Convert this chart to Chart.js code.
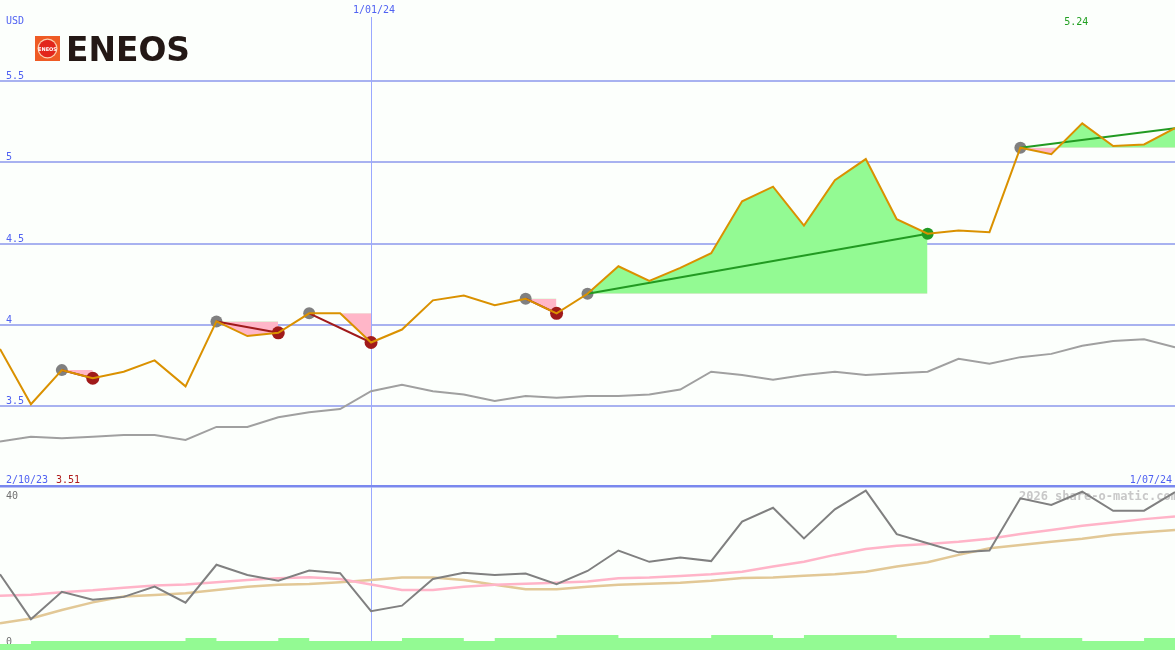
<!DOCTYPE html>
<html>
<head>
<meta charset="utf-8">
<script src="https://cdn.jsdelivr.net/npm/chart.js@4.4.1/dist/chart.umd.min.js"></script>
<style>
  body { margin: 0; background: #fcfffc; overflow: hidden; }
  canvas { position: absolute; left: 0; }
</style>
</head>
<body>
<canvas id="priceChart" width="1175" height="487" style="top:0"></canvas>
<canvas id="oscChart" width="1175" height="163" style="top:487px"></canvas>
<script>
// weekly points
const weeks = ['9/10/23', '16/10/23', '23/10/23', '30/10/23', '6/11/23', '13/11/23', '20/11/23', '27/11/23',
    '4/12/23', '11/12/23', '18/12/23', '25/12/23', '1/01/24', '8/01/24', '15/01/24', '22/01/24', '29/01/24',
    '5/02/24', '12/02/24', '19/02/24', '26/02/24', '4/03/24', '11/03/24', '18/03/24', '25/03/24', '1/04/24',
    '8/04/24', '15/04/24', '22/04/24', '29/04/24', '6/05/24', '13/05/24', '20/05/24', '27/05/24', '3/06/24',
    '10/06/24', '17/06/24', '24/06/24', '1/07/24'];
const rangeStart = '2/10/23';

const price = [3.85, 3.51, 3.72, 3.67, 3.71, 3.78, 3.62, 4.02, 3.93, 3.95, 4.07, 4.07, 3.89, 3.97, 4.15, 4.18,
    4.12, 4.16, 4.07, 4.19, 4.36, 4.27, 4.35, 4.44, 4.76, 4.85, 4.61, 4.89, 5.02, 4.65, 4.56, 4.58, 4.57, 5.09,
    5.05, 5.24, 5.10, 5.11, 5.21];
const avgLine = [3.28, 3.31, 3.30, 3.31, 3.32, 3.32, 3.29, 3.37, 3.37, 3.43, 3.46, 3.48, 3.59, 3.63, 3.59, 3.57,
    3.53, 3.56, 3.55, 3.56, 3.56, 3.57, 3.60, 3.71, 3.69, 3.66, 3.69, 3.71, 3.69, 3.70, 3.71, 3.79, 3.76, 3.80,
    3.82, 3.87, 3.90, 3.91, 3.86];

const osc = [20.2, 7.9, 15.4, 13.2, 14.0, 16.8, 12.4, 22.8, 20.0, 18.4, 21.2, 20.5, 10.1, 11.6, 18.9, 20.6, 20.0,
    20.4, 17.5, 21.1, 26.7, 23.6, 24.8, 23.8, 34.6, 38.4, 30.0, 38.0, 43.1, 31.2, 28.7, 26.2, 26.7, 41.0, 39.2,
    42.8, 37.6, 37.6, 42.7];
const oscPink = [14.3, 14.6, 15.3, 15.8, 16.5, 17.1, 17.4, 18.0, 18.6, 19.1, 19.4, 18.9, 17.4, 15.9, 15.9, 16.8,
    17.3, 17.6, 17.9, 18.2, 19.1, 19.3, 19.7, 20.2, 20.9, 22.3, 23.6, 25.5, 27.1, 28.0, 28.5, 29.1, 29.9, 31.2,
    32.3, 33.5, 34.4, 35.3, 36.0];
const oscTan = [6.8, 8.1, 10.4, 12.5, 14.1, 14.5, 15.0, 15.9, 16.8, 17.3, 17.5, 18.0, 18.6, 19.3, 19.3, 18.6,
    17.3, 16.1, 16.1, 16.8, 17.3, 17.6, 17.9, 18.4, 19.2, 19.3, 19.8, 20.2, 20.9, 22.3, 23.5, 25.5, 27.3, 28.2,
    29.1, 29.9, 31.0, 31.7, 32.3];
const volume = [2, 3, 3, 3, 3, 3, 4, 3, 3, 4, 3, 3, 3, 4, 4, 3, 4, 4, 5, 5, 4, 4, 4, 5, 5, 4, 5, 5, 5, 4, 4, 4,
    5, 4, 4, 3, 3, 4, 4];

const priceTicks = [3.5, 4, 4.5, 5, 5.5];
const priceTickLabels = ['3.5', '4', '4.5', '5', '5.5'];
const oscTicks = [0, 40];
const oscTickLabels = ['0', '40'];

const highIdx = [2, 7, 10, 17, 19, 33];
const lowIdx = [3, 9, 12, 18];
const upIdx = [30];
const downTrends = [[2, 3], [7, 9], [10, 12], [17, 18]];
const upTrends = [[19, 30], [33, 38]];
const markIdx = 12; // 1/01/24

const FONT = '10px "DejaVu Sans Mono"';

function pick(list) {
    return price.map((v, i) => list.includes(i) ? v : null);
}
function ends(a, b) {
    return price.map((v, i) => (i === a || i === b) ? v : null);
}
function span(a, b) {
    return price.map((v, i) => (i >= a && i <= b) ? v : null);
}

const datasets = [];
datasets.push({ data: price, borderColor: '#da9100', borderWidth: 2, pointRadius: 0 });
downTrends.forEach(t => datasets.push({
    data: ends(t[0], t[1]), spanGaps: true, borderColor: '#a01a1a', borderWidth: 2, pointRadius: 0
}));
upTrends.forEach(t => datasets.push({
    data: ends(t[0], t[1]), spanGaps: true, borderColor: '#229a22', borderWidth: 2, pointRadius: 0
}));
datasets.push({ data: pick(highIdx), showLine: false, pointRadius: 6, pointBorderWidth: 0, pointBackgroundColor: '#808080' });
datasets.push({ data: pick(lowIdx), showLine: false, pointRadius: 6.5, pointBorderWidth: 0, pointBackgroundColor: '#a01a1a' });
datasets.push({ data: pick(upIdx), showLine: false, pointRadius: 6, pointBorderWidth: 0, pointBackgroundColor: '#229a22' });
downTrends.concat(upTrends).forEach(t => datasets.push({
    data: span(t[0], t[1]), borderColor: 'transparent', borderWidth: 0, pointRadius: 0,
    fill: { target: { value: price[t[0]] }, above: '#93fa93', below: '#ffb6c8' }
}));
datasets.push({ data: avgLine, borderColor: '#a0a0a0', borderWidth: 2, pointRadius: 0 });

const pricePanel = {
    id: 'pricePanel',
    beforeDatasetsDraw(chart) {
        const ctx = chart.ctx, x = chart.scales.x, y = chart.scales.y;
        ctx.save();
        ctx.fillStyle = '#a8b2f0';
        priceTicks.forEach(v => {
            const py = Math.round(y.getPixelForValue(v));
            ctx.fillRect(0, py - 1, chart.width, 2);
        });
        const px = Math.round(x.getPixelForValue(markIdx));
        ctx.fillStyle = '#9aa8ff';
        ctx.fillRect(px, 17, 1, chart.height - 17);

        ctx.font = FONT;
        ctx.fillStyle = '#5062f2';
        ctx.textAlign = 'left';
        priceTicks.forEach((v, i) => {
            ctx.fillText(priceTickLabels[i], 6, Math.round(y.getPixelForValue(v)) - 2);
        });
        ctx.fillText('USD', 6, 24);
        ctx.textAlign = 'center';
        ctx.fillText(weeks[markIdx], px + 3, 13);
        ctx.restore();
    },
    afterDraw(chart) {
        const ctx = chart.ctx, x = chart.scales.x;
        ctx.save();
        // logo
        ctx.fillStyle = '#ef5b25';
        ctx.fillRect(35, 36, 25, 25);
        ctx.beginPath();
        ctx.arc(47.5, 48.5, 10, 0, Math.PI * 2);
        ctx.fillStyle = '#fbd0b0';
        ctx.fill();
        ctx.beginPath();
        ctx.arc(47.5, 48.5, 8.7, 0, Math.PI * 2);
        ctx.fillStyle = '#e2261c';
        ctx.fill();
        ctx.fillStyle = '#ffffff';
        ctx.font = 'bold 5px "DejaVu Sans"';
        ctx.textAlign = 'center';
        ctx.fillText('ENEOS', 47.5, 50.5);
        ctx.fillStyle = '#231815';
        ctx.font = 'bold 33px "DejaVu Sans"';
        ctx.textAlign = 'left';
        const w = ctx.measureText('ENEOS').width;
        ctx.save();
        ctx.translate(66, 61);
        ctx.scale(124 / w, 1);
        ctx.fillText('ENEOS', 0, 0);
        ctx.restore();

        // max / min labels
        const maxV = Math.max(...price), minV = Math.min(...price);
        const maxI = price.indexOf(maxV);
        ctx.font = FONT;
        ctx.textAlign = 'center';
        ctx.fillStyle = '#22a022';
        ctx.fillText(maxV.toFixed(2), x.getPixelForValue(maxI) - 6, 25);
        ctx.textAlign = 'left';
        ctx.fillStyle = '#5062f2';
        ctx.fillText(rangeStart, 6, 483);
        ctx.fillStyle = '#b01c1c';
        ctx.fillText(minV.toFixed(2), 56, 483);
        ctx.textAlign = 'right';
        ctx.fillStyle = '#5062f2';
        ctx.fillText(weeks[weeks.length - 1], 1172, 483);

        ctx.fillStyle = '#7a88ee';
        ctx.fillRect(0, 485, chart.width, 2);
        ctx.restore();
    }
};

const oscPanel = {
    id: 'oscPanel',
    beforeDatasetsDraw(chart) {
        const ctx = chart.ctx, x = chart.scales.x, y = chart.scales.y;
        ctx.save();
        ctx.fillStyle = '#7a88ee';
        ctx.fillRect(0, 0, chart.width, 0.5);
        const px = Math.round(x.getPixelForValue(markIdx));
        ctx.fillStyle = '#9aa8ff';
        ctx.fillRect(px, 0, 1, chart.height);

        ctx.font = 'bold 12px "DejaVu Sans Mono"';
        ctx.fillStyle = '#c8c8c8';
        ctx.textAlign = 'left';
        ctx.fillText('2026 share-o-matic.com', 1019, 13);

        ctx.font = FONT;
        ctx.fillStyle = '#707070';
        oscTicks.forEach((v, i) => {
            ctx.fillText(oscTickLabels[i], 6, Math.round(y.getPixelForValue(v)) - 3);
        });
        ctx.restore();
    }
};

const common = {
    responsive: false,
    animation: false,
    devicePixelRatio: 1,
    events: [],
    layout: { padding: 0, autoPadding: false },
    plugins: { legend: { display: false }, tooltip: { enabled: false } },
    elements: { line: { tension: 0 } }
};

new Chart(document.getElementById('priceChart'), {
    type: 'line',
    data: { labels: weeks, datasets: datasets },
    options: Object.assign({}, common, {
        scales: {
            x: { type: 'category', display: false, offset: false },
            y: { display: false, min: 3, max: 6 }
        }
    }),
    plugins: [pricePanel]
});

new Chart(document.getElementById('oscChart'), {
    type: 'line',
    data: {
        labels: weeks,
        datasets: [
            { data: osc, borderColor: '#808080', borderWidth: 2, pointRadius: 0 },
            { data: oscPink, borderColor: '#ffb4c8', borderWidth: 2.5, pointRadius: 0 },
            { data: oscTan, borderColor: '#e2c896', borderWidth: 2.5, pointRadius: 0 },
            {
                data: volume, yAxisID: 'yv', stepped: 'before', borderColor: 'transparent', borderWidth: 0,
                pointRadius: 0, fill: 'origin', backgroundColor: '#93fa93'
            }
        ]
    },
    options: Object.assign({}, common, {
        scales: {
            x: { type: 'category', display: false, offset: false },
            y: { display: false, min: -0.55, max: 44.1 },
            yv: { display: false, min: 0, max: 54.33 }
        }
    }),
    plugins: [oscPanel]
});
</script>
</body>
</html>
